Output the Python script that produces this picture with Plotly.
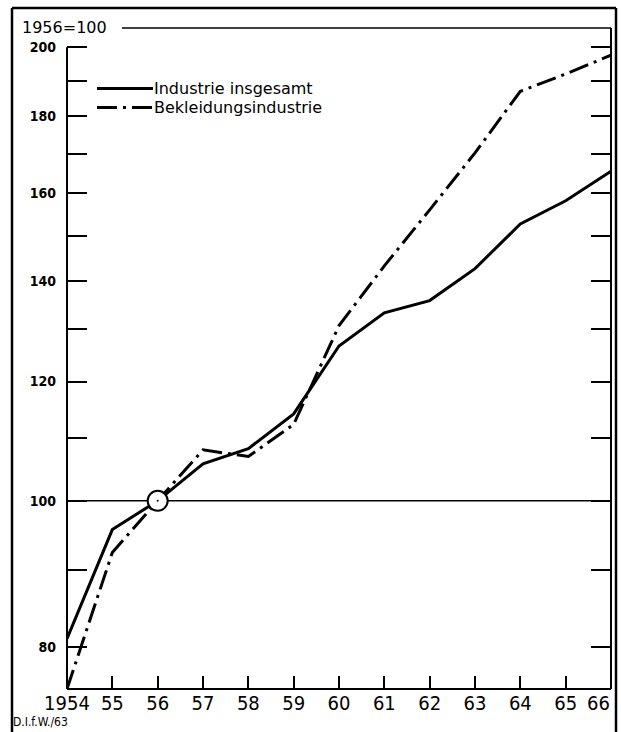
import plotly.graph_objects as go

# ---- data ----
years = [1954, 1955, 1956, 1957, 1958, 1959, 1960, 1961, 1962, 1963, 1964, 1965, 1966]
industrie_insgesamt = [81.0, 95.7, 100.0, 105.8, 108.3, 114.2, 126.7, 133.3, 135.8, 142.6, 152.7, 158.2, 165.5]
bekleidungsindustrie = [75.0, 92.4, 100.0, 108.1, 107.0, 112.4, 130.7, 143.2, 156.0, 170.2, 187.0, 192.0, 197.6]
x_tick_labels = ["1954", "55", "56", "57", "58", "59", "60", "61", "62", "63", "64", "65", "66"]
y_tick_values = [80, 90, 100, 110, 120, 130, 140, 150, 160, 170, 180, 190, 200]
y_tick_labels = ["80", "", "100", "", "120", "", "140", "", "160", "", "180", "", "200"]
base_year = [1956]
base_value = [100]
series_names = ["Industrie insgesamt", "Bekleidungsindustrie"]

NARROW = "Liberation Sans Narrow, DejaVu Sans Condensed, Arial Narrow, sans-serif"
SANS = "DejaVu Sans, sans-serif"
DASHDOT = "20px,6px,3px,6px"

fig = go.Figure()

# reference line at 100
fig.add_trace(go.Scatter(x=[years[0], years[-1]], y=[base_value[0], base_value[0]],
                         mode="lines", line=dict(color="black", width=1.5),
                         hoverinfo="skip", showlegend=False))

fig.add_trace(go.Scatter(x=years, y=industrie_insgesamt, mode="lines",
                         name=series_names[0],
                         line=dict(color="black", width=3), showlegend=False))
fig.add_trace(go.Scatter(x=years, y=bekleidungsindustrie, mode="lines",
                         name=series_names[1],
                         line=dict(color="black", width=3, dash=DASHDOT), showlegend=False))

# base point circle
fig.add_trace(go.Scatter(x=base_year, y=base_value, mode="markers",
                         marker=dict(size=20, color="white", line=dict(color="black", width=2)),
                         hoverinfo="skip", showlegend=False))
fig.add_trace(go.Scatter(x=base_year, y=base_value, mode="markers",
                         marker=dict(size=2, color="black"),
                         hoverinfo="skip", showlegend=False))

shapes = []
def pline(x0, y0, x1, y1, w=2, dash=None, xref="paper", yref="paper"):
    d = dict(type="line", xref=xref, yref=yref, x0=x0, y0=y0, x1=x1, y1=y1,
             line=dict(color="black", width=w))
    if dash:
        d["line"]["dash"] = dash
    shapes.append(d)

# frame of the plot
pline(0, 0, 1, 0, w=2)                         # bottom axis
pline(1, 0, 1, 1, w=2)                         # right axis
pline(0.1011, 1, 1, 1, w=1.5)                  # top line
shapes.append(dict(type="line", xref="paper", yref="y", x0=0, x1=0,
                   y0=y_tick_values[0] - 5, y1=y_tick_values[-1],
                   line=dict(color="black", width=2)))  # left axis up to 200
# outer border
pline(-0.1011, -0.07, -0.1011, 1.0303, w=2.5)
pline(-0.1011, 1.0303, 1.0092, 1.0303, w=2.5)
pline(1.0092, -0.07, 1.0092, 1.0303, w=2.5)

# legend samples
LEG_Y1, LEG_Y2 = 0.9085, 0.8797
pline(0.0551, LEG_Y1, 0.1581, LEG_Y1, w=3)
pline(0.0551, LEG_Y2, 0.1581, LEG_Y2, w=3, dash=DASHDOT)

annotations = [
    dict(text="1956=100", xref="paper", yref="paper", x=-0.0864, y=1.0015,
         xanchor="left", yanchor="middle", showarrow=False,
         font=dict(family=SANS, size=16, color="black")),
    dict(text="D.I.f.W./63", xref="paper", yref="paper", x=-0.1011, y=-0.0505,
         xanchor="left", yanchor="middle", showarrow=False, borderpad=0,
         font=dict(family=NARROW, size=12, color="black")),
    dict(text=series_names[0], xref="paper", yref="paper", x=0.1581, y=LEG_Y1,
         xanchor="left", yanchor="middle", showarrow=False, borderpad=0,
         font=dict(family=SANS, size=16, color="black")),
    dict(text=series_names[1], xref="paper", yref="paper", x=0.1581, y=LEG_Y2,
         xanchor="left", yanchor="middle", showarrow=False, borderpad=0,
         font=dict(family=SANS, size=16, color="black")),
    # last year label sits left of the right frame edge, as in the original
    dict(text=x_tick_labels[-1], xref="x", yref="paper", x=years[-1], y=-0.0212,
         xanchor="right", yanchor="middle", showarrow=False, borderpad=0,
         font=dict(family=NARROW, size=20, color="black")),
]

fig.update_layout(
    width=621, height=732,
    margin=dict(l=67, r=10, t=28, b=43, autoexpand=False),
    paper_bgcolor="white", plot_bgcolor="white",
    shapes=shapes, annotations=annotations,
    showlegend=False,
    xaxis=dict(range=[years[0], years[-1]], tickvals=years[:-1], ticktext=x_tick_labels[:-1],
               ticks="inside", ticklen=13, tickwidth=1.5, tickcolor="black",
               automargin=False,
               showgrid=False, zeroline=False, showline=False,
               tickfont=dict(family=NARROW, size=20, color="black")),
    yaxis=dict(type="log", range=[1.87506, 2.31387],
               tickvals=y_tick_values, ticktext=y_tick_labels,
               ticks="inside", ticklen=20, tickwidth=1.5, tickcolor="black",
               ticklabelstandoff=10, automargin=False,
               mirror="ticks", showgrid=False, zeroline=False, showline=False,
               tickfont=dict(family=NARROW, size=14, color="black", weight="bold")),
)

fig.write_html("out.html", config={"displayModeBar": False},
               post_script="document.body.style.margin='0';document.body.style.overflow='hidden';")
